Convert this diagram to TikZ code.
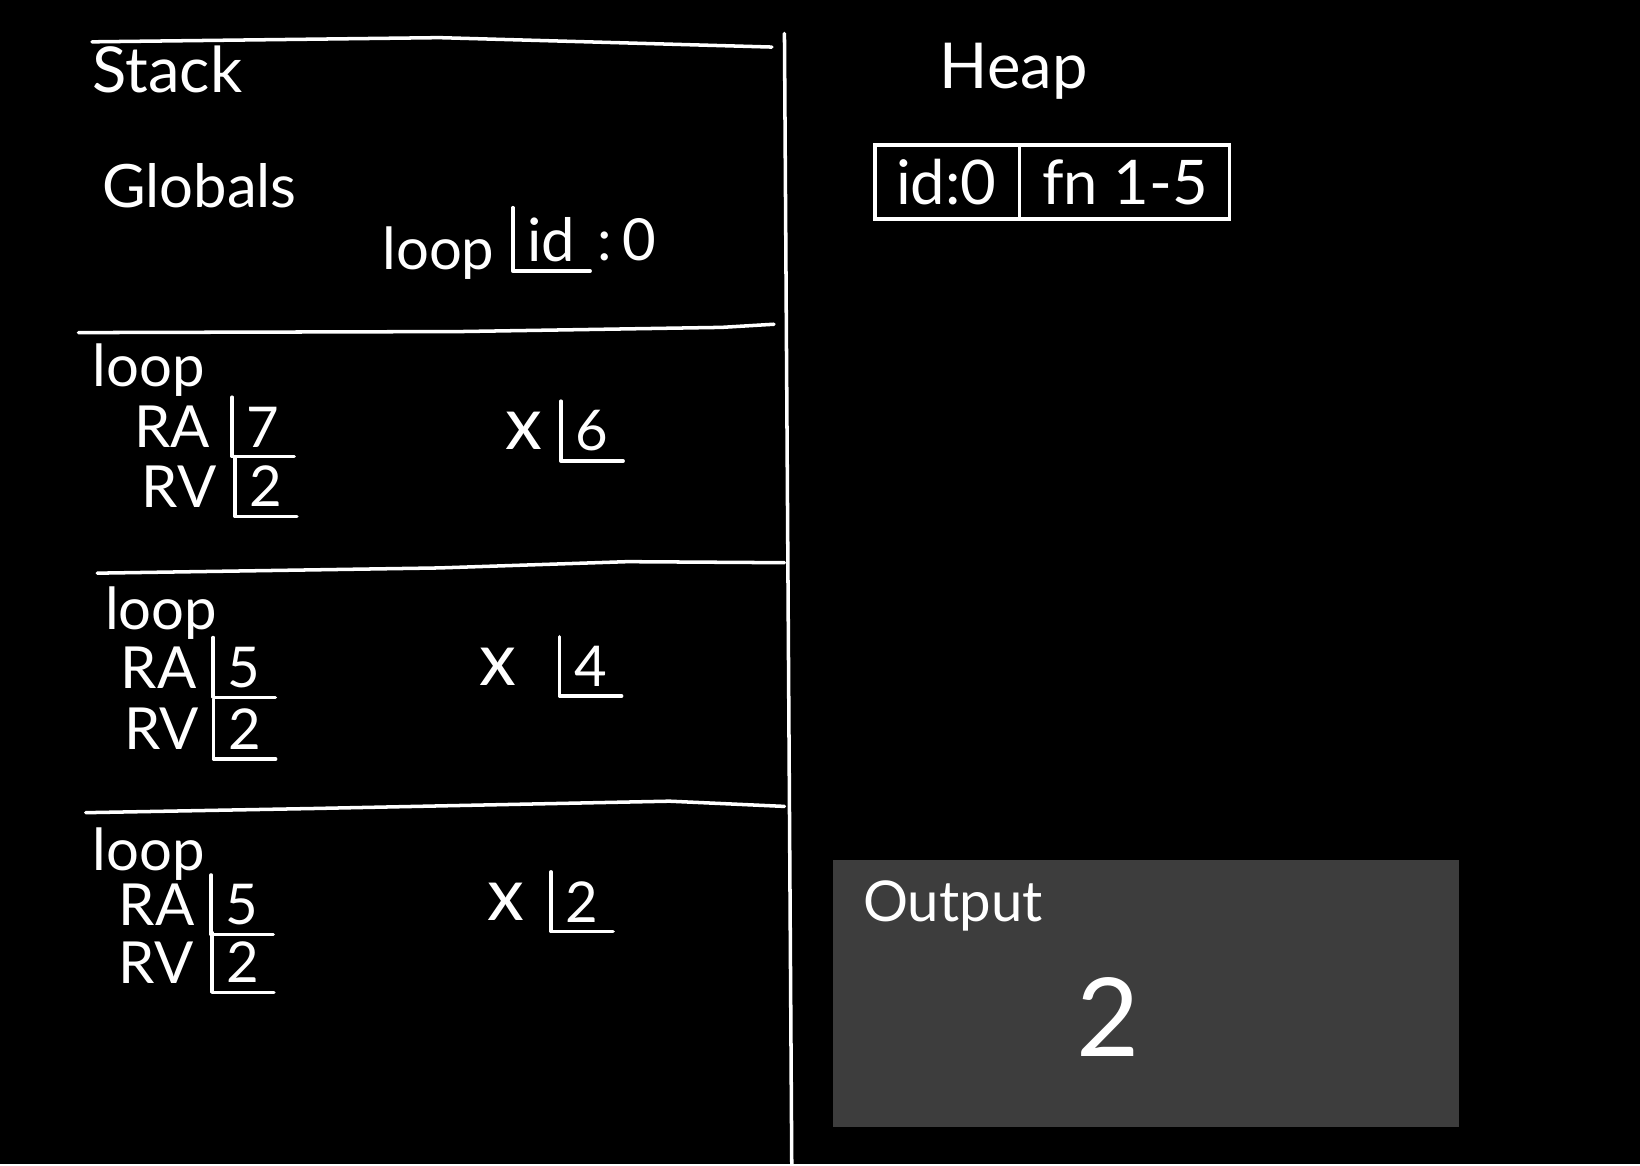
\documentclass[tikz,border=0pt]{standalone}
\usepackage{fontspec}
\setmainfont{Lato}
\usetikzlibrary{positioning}
\usetikzlibrary{shapes.multipart}
\definecolor{outgray}{RGB}{61,61,61}

\begin{document}
\begin{tikzpicture}
    [x=0.010459cm,y=-0.010459cm,
pen/.style={white, line width=1pt, line cap=round, line join=round},
hand/.style={text=white, inner sep=0pt, font=\fontsize{16.5}{20}\selectfont},
title/.style={hand, font=\fontsize{18}{22}\selectfont},
varx/.style={hand, font=\fontsize{21}{24}\selectfont},
slot/.style={hand, inner xsep=4pt, inner ysep=2.5pt, font=\fontsize{16}{19}\selectfont},
heapcell/.style={rectangle split, rectangle split horizontal, rectangle split parts=2, draw=white, line width=1pt, text=white, inner xsep=6pt, inner ysep=4pt, font=\fontsize{17.5}{21}\selectfont},
outbox/.style={fill=outgray, minimum width=178pt, minimum height=75.9pt, inner sep=0pt}
]

\fill[black] (0,0) rectangle (1568,1113);

\coordinate (divtop) at (750,32);
\coordinate (divbot) at (757,1113);
\draw[pen] (divtop) -- (divbot);

\draw[pen] (88,40) -- (420,36) -- (738,45);
\draw[pen] (75,318) -- (440,317) -- (690,313) -- (740,310);
\draw[pen] (93,548) -- (420,543) -- (600,537) -- (750,538);
\draw[pen] (82,777) -- (300,773) -- (640,766) -- (750,771);

\node[title, anchor=base west] (stack) at (88,88) {Stack};
\node[title, anchor=base west, font=\fontsize{17}{20}\selectfont] (globals) at (97,198) {Globals};
\node[hand, anchor=base west] (gloop) at (365,258) {loop};
\node[slot, font=\fontsize{17}{20}\selectfont, right=5pt of gloop, yshift=4pt] (gid) {id};
\node[hand, right=2pt of gid] (gval) {:\,0};

\node[hand, anchor=base west] (loop1) at (88,370) {loop};
\node[hand, anchor=base west] (ra1) at (128,428) {RA};
\node[slot, right=6pt of ra1] (ra1v) {7};
\node[hand, anchor=base west] (rv1) at (135,485) {RV};
\node[slot, right=5pt of rv1] (rv1v) {2};
\node[varx, anchor=base west] (x1) at (483,430) {x};
\node[slot, right=5pt of x1] (x1v) {6};

\node[hand, anchor=base west] (loop2) at (100,602) {loop};
\node[hand, anchor=base west] (ra2) at (115,658) {RA};
\node[slot, right=4.5pt of ra2] (ra2v) {5};
\node[hand, anchor=base west] (rv2) at (118,717) {RV};
\node[slot, right=4pt of rv2] (rv2v) {2};
\node[varx, anchor=base west] (x2) at (458,655) {x};
\node[slot, right=12pt of x2] (x2v) {4};

\node[hand, anchor=base west] (loop3) at (88,832) {loop};
\node[hand, anchor=base west] (ra3) at (113,885) {RA};
\node[slot, right=4.5pt of ra3] (ra3v) {5};
\node[hand, anchor=base west] (rv3) at (113,940) {RV};
\node[slot, right=5pt of rv3] (rv3v) {2};
\node[varx, anchor=base west] (x3) at (465,880) {x};
\node[slot, right=7.5pt of x3] (x3v) {2};

\foreach \s in {gid,ra1v,rv1v,x1v,ra2v,rv2v,x2v,ra3v,rv3v,x3v}
    \draw[pen] (\s.north west) |- (\s.south east);

\node[title, anchor=base west] (heap) at (898,85) {Heap};
\node[heapcell] (obj0) at (1006,174) {id:0\nodepart{two}fn 1-5};

\node[outbox] (out) at (1096,949.5) {};
\node[hand, font=\fontsize{16}{19}\selectfont, below right=6pt and 8.5pt of out.north west] (outlbl) {Output};
\node[hand, font=\fontsize{31}{34}\selectfont] (outval) at (1059,972) {2};

\end{tikzpicture}
\end{document}
